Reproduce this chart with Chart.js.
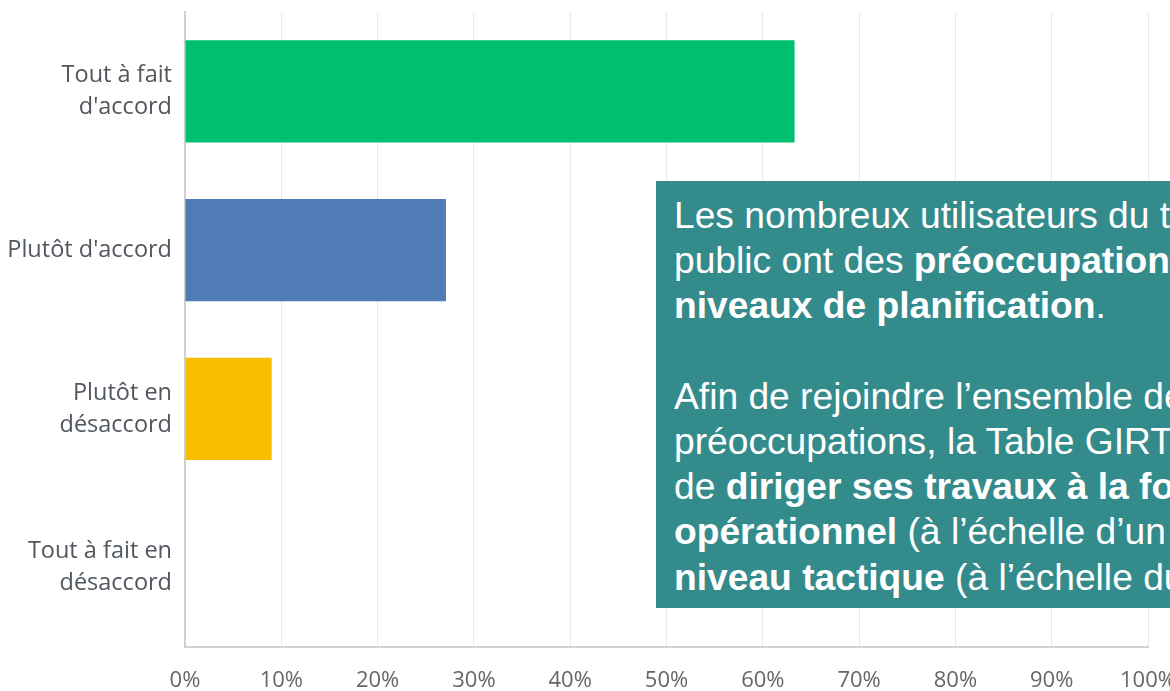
<!DOCTYPE html>
<html lang="fr">
<head>
<meta charset="utf-8">
<script src="https://cdn.jsdelivr.net/npm/chart.js@4/dist/chart.umd.min.js"></script>
<style>
  html, body { margin: 0; padding: 0; background: #fff; overflow: hidden; }
  #wrap { position: relative; width: 1170px; height: 691px; }
  #note {
    position: absolute; left: 656px; top: 181px; width: 700px; height: 427px;
    background: #348b8c; color: #fff;
    font-family: "Liberation Sans", Arial, sans-serif; font-size: 37.2px; line-height: 45.2px;
    padding: 12px 0 0 18px; box-sizing: border-box; white-space: nowrap; overflow: hidden;
  }
  #note b { font-weight: bold; }
</style>
</head>
<body>
<div id="wrap">
  <canvas id="chart" width="1170" height="691"></canvas>
  <div id="note">
    Les nombreux utilisateurs du territoire<br>
    public ont des <b>préoccupations à tous les</b><br>
    <b>niveaux de planification</b>.<br>
    <br>
    Afin de rejoindre l’ensemble des<br>
    préoccupations, la Table GIRT a choisi<br>
    de <b>diriger ses travaux à la fois au niveau</b><br>
    <b>opérationnel</b> (à l’échelle d’un chantier) et au<br>
    <b>niveau tactique</b> (à l’échelle du territoire).
  </div>
</div>
<script>
// answers and their share of responses (%)
const answers = [
  ["Tout à fait", "d'accord"],
  "Plutôt d'accord",
  ["Plutôt en", "désaccord"],
  ["Tout à fait en", "désaccord"]
];
const shares = [63.3, 27.1, 9.0, 0];
const barColors = ["#00bf6f", "#507cb6", "#f9be00", "#6bc8cd"];

const fontFamily = "'Open Sans', Lato, sans-serif";

new Chart(document.getElementById("chart"), {
  type: "bar",
  data: {
    labels: answers,
    datasets: [{
      data: shares,
      backgroundColor: barColors,
      borderWidth: 0,
      categoryPercentage: 1,
      barPercentage: 0.645
    }]
  },
  options: {
    indexAxis: "y",
    responsive: false,
    animation: false,
    layout: { padding: { top: 12, right: 22, left: 0, bottom: 0 } },
    plugins: {
      legend: { display: false },
      tooltip: { enabled: false }
    },
    scales: {
      x: {
        min: 0,
        max: 100,
        ticks: {
          stepSize: 10,
          padding: 21,
          color: "#666",
          font: { family: fontFamily, size: 22 },
          callback: v => v + "%"
        },
        grid: { color: "#e9e9e9", lineWidth: 1, drawTicks: false },
        border: { color: "#d3d3d3", width: 2 },
        afterFit: s => {
          s.height = 44;
          s.paddingLeft = 0;
          s.paddingRight = 0;
        }
      },
      y: {
        ticks: {
          padding: 13,
          color: "#50575e",
          font: { family: fontFamily, size: 23.5, lineHeight: 1.36 }
        },
        grid: { display: false, drawTicks: false },
        border: { color: "#cfcfcf", width: 2 },
        afterFit: s => {
          s.width = 185;
          s.paddingTop = 0;
          s.paddingBottom = 0;
        }
      }
    }
  }
});
</script>
</body>
</html>
